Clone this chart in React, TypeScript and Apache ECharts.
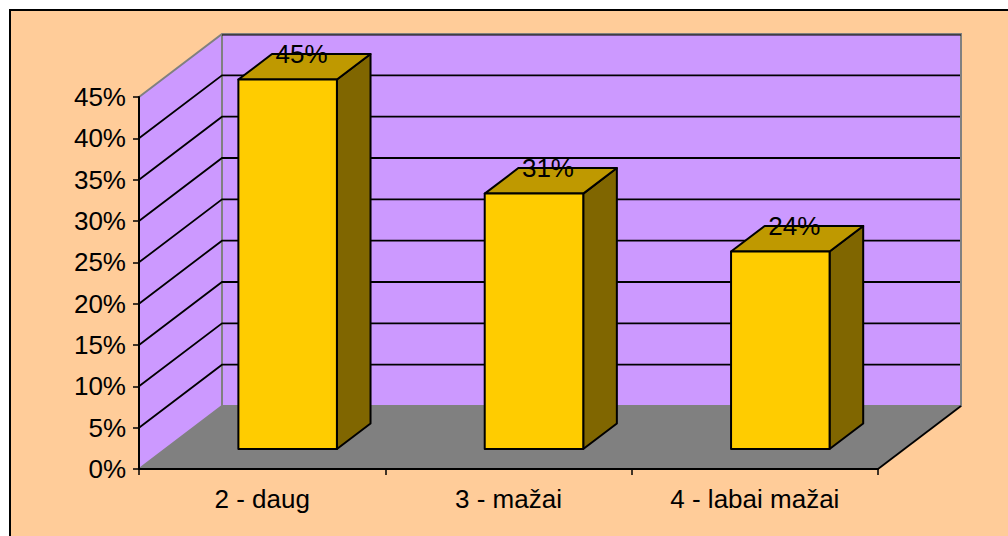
import React, { useEffect, useRef } from "react";
import * as echarts from "echarts";

const categories = ["2 - daug", "3 - mažai", "4 - labai mažai"];
const values = [44.7, 30.9, 23.9];
const dataLabels = ["45%", "31%", "24%"];
const yTicks = [5, 10, 15, 20, 25, 30, 35, 40];
const yMax = 45;

const FONT = '26px "Liberation Sans", Arial, sans-serif';
const DEPTH_X = 83;
const DEPTH_Y = 63;
const BAR_W = 0.4;
const FRONT_GAP = 0.307;
const BAR_DEPTH = 0.405;
const LABEL_SHIFT = 14;

const wallEdge = "#808080";

function renderWalls(params: any, api: any) {
  const c = params.coordSys;
  const x0 = c.x, x1 = c.x + c.width, yT = c.y, yB = c.y + c.height;
  const bx0 = x0 + DEPTH_X, bx1 = x1 + DEPTH_X, byT = yT - DEPTH_Y, byB = yB - DEPTH_Y;
  return {
    type: "group",
    children: [
      { type: "polygon", shape: { points: [[x0, yT], [bx0, byT], [bx0, byB], [x0, yB]] }, style: { fill: "#CC99FF", stroke: "none" } },
      { type: "polygon", shape: { points: [[bx0, byT], [bx1, byT], [bx1, byB], [bx0, byB]] }, style: { fill: "#CC99FF", stroke: "none" } },
      { type: "polygon", shape: { points: [[x0, yB], [x1, yB], [bx1, byB], [bx0, byB]] }, style: { fill: "#808080", stroke: "none" } },
      { type: "polyline", shape: { points: [[x0, yT], [bx0, byT], [bx1, byT], [bx1, byB], [bx0, byB], [x0, yB]] }, style: { fill: "none", stroke: wallEdge, lineWidth: 2 } },
      { type: "line", shape: { x1: bx0, y1: byT, x2: bx0, y2: byB }, style: { stroke: wallEdge, lineWidth: 2 } },
      { type: "line", shape: { x1: bx0, y1: byT + 1, x2: bx1, y2: byT + 1 }, style: { stroke: "#000", lineWidth: 1 } },
      { type: "line", shape: { x1: x1, y1: yB, x2: bx1, y2: byB }, style: { stroke: "#000", lineWidth: 1.8 } },
    ],
  };
}

function renderGrid(params: any, api: any) {
  const c = params.coordSys;
  const y = api.coord([0, api.value(1)])[1];
  return {
    type: "polyline",
    shape: { points: [[c.x, y], [c.x + DEPTH_X, y - DEPTH_Y], [c.x + c.width + DEPTH_X - 1, y - DEPTH_Y]] },
    style: { fill: "none", stroke: "#000", lineWidth: 1.8 },
  };
}

function renderBar(params: any, api: any) {
  const idx = api.value(0);
  const [cx, yTop] = api.coord([idx, api.value(1)]);
  const [, yZero] = api.coord([idx, 0]);
  const band = api.size([1, 0])[0];
  const w = band * BAR_W;
  const ox = FRONT_GAP * DEPTH_X, oy = 0.317 * DEPTH_Y;
  const dx = BAR_DEPTH * DEPTH_X, dy = BAR_DEPTH * DEPTH_Y;
  const l = cx - w / 2 + ox, r = cx + w / 2 + ox;
  const t = yTop - oy, b = yZero - oy;
  const line = { stroke: "#000", lineWidth: 2, lineJoin: "round" };
  return {
    type: "group",
    children: [
      { type: "polygon", shape: { points: [[r, t], [r + dx, t - dy], [r + dx, b - dy], [r, b]] }, style: { fill: "#806600", ...line } },
      { type: "polygon", shape: { points: [[l, t], [l + dx, t - dy], [r + dx, t - dy], [r, t]] }, style: { fill: "#BF9900", ...line } },
      { type: "polygon", shape: { points: [[l, t], [r, t], [r, b], [l, b]] }, style: { fill: "#FFCC00", ...line } },
      {
        type: "text",
        style: {
          text: dataLabels[idx], x: (l + r) / 2 + LABEL_SHIFT, y: t - dy,
          textAlign: "center", textVerticalAlign: "middle", font: FONT, fill: "#000",
        },
      },
    ],
  };
}

export default function App() {
  const ref = useRef<HTMLDivElement>(null);
  useEffect(() => {
    const chart = echarts.init(ref.current!, undefined, { renderer: "svg" });
    chart.setOption({
      animation: false,
      backgroundColor: "#fff",
      graphic: [{
        type: "rect", z: -1,
        shape: { x: 10, y: 10, width: 1100, height: 600 },
        style: { fill: "#FFCC99", stroke: "#000", lineWidth: 2 },
      }],
      grid: { left: 139, right: 130, top: 97, bottom: 67 },
      xAxis: {
        type: "category", data: categories, z: 10,
        axisLine: { lineStyle: { color: "#000", width: 2 } },
        axisTick: { show: true, alignWithLabel: false, length: 6, lineStyle: { color: "#000", width: 1.5 } },
        axisLabel: { color: "#000", fontFamily: '"Liberation Sans"', fontSize: 26, margin: 17, interval: 0 },
      },
      yAxis: {
        type: "value", min: 0, max: yMax, interval: 5, z: 10,
        axisLine: { show: true, lineStyle: { color: "#000", width: 2 } },
        axisTick: { show: true, length: 6, lineStyle: { color: "#000", width: 1.5 } },
        splitLine: { show: false },
        axisLabel: { color: "#000", fontFamily: '"Liberation Sans"', fontSize: 26, margin: 13, formatter: "{value}%" },
      },
      series: [
        { type: "custom", z: 1, clip: false, silent: true, renderItem: renderWalls, data: [[0, 0]], encode: { x: 0, y: 1 } },
        { type: "custom", z: 2, clip: false, silent: true, renderItem: renderGrid, data: yTicks.map((t) => [0, t]), encode: { x: 0, y: 1 } },
        { type: "custom", z: 3, clip: false, silent: true, renderItem: renderBar, data: values.map((v, i) => [i, v]), encode: { x: 0, y: 1 } },
      ],
    });
    return () => chart.dispose();
  }, []);
  return <div ref={ref} style={{ position: "fixed", left: 0, top: 0, width: 1008, height: 536 }} />;
}
